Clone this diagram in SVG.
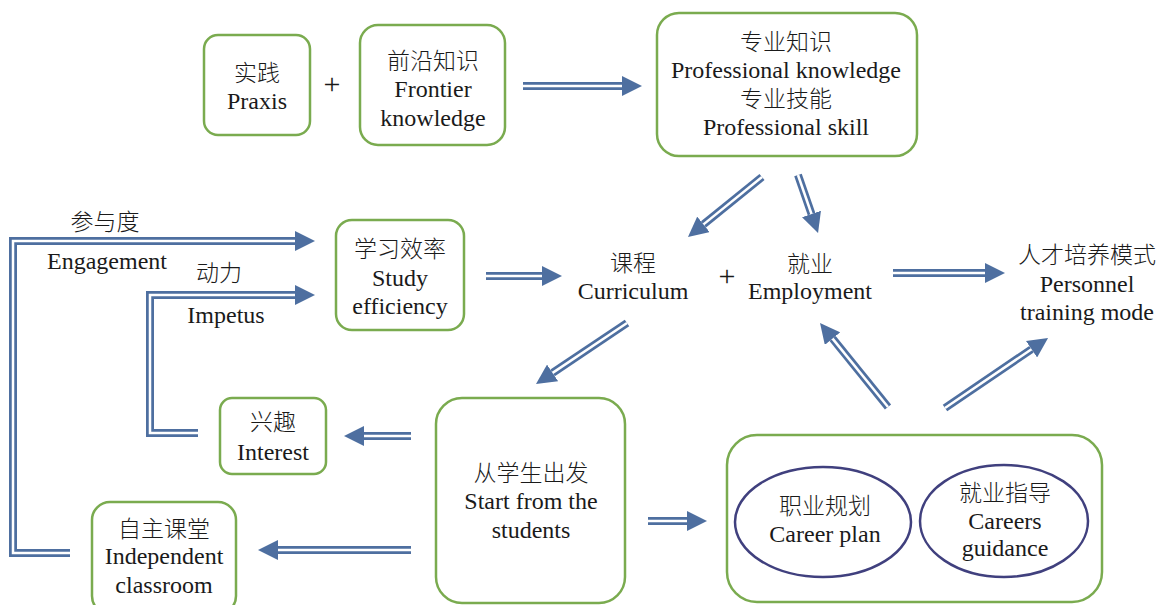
<svg xmlns="http://www.w3.org/2000/svg" width="1159" height="605" viewBox="0 0 1159 605">
  <style>
    text { font-family: "Liberation Serif", "Noto Sans CJK SC", serif; font-size: 24px; fill: #1a1a1a; text-anchor: middle; }
    .cjk { font-family: "Noto Sans CJK SC", "Liberation Serif", sans-serif; font-size: 23px; font-weight: 300; }
    .plus { font-size: 30px; }
    .box { fill: #ffffff; stroke: #7aab4f; stroke-width: 2.5; }
    .oval { fill: #ffffff; stroke: #40407e; stroke-width: 2.5; }
    .shaft { fill: none; stroke: #4e6fa0; stroke-width: 8; stroke-linejoin: miter; marker-end: url(#head); }
    .gap { fill: none; stroke: #ffffff; stroke-width: 2.5; stroke-linejoin: miter; }
  </style>
  <defs>
    <marker id="head" viewBox="0 0 20 20" refX="0" refY="10" markerWidth="20" markerHeight="20" markerUnits="userSpaceOnUse" orient="auto">
      <path d="M0,0 L20,10 L0,20 z" fill="#4e6fa0"/>
    </marker>
  </defs>
  <rect width="1159" height="605" fill="#ffffff"/>

  <!-- connectors: double-line arrows -->
  <g id="connectors">
    <path class="shaft" d="M523,86 L622,86"/>
    <path class="shaft" d="M762,177 L703.5,224.4"/>
    <path class="shaft" d="M798,175 L811.5,214"/>
    <path class="shaft" d="M893,273 L985,273"/>
    <path class="shaft" d="M486,276 L542,276"/>
    <path class="shaft" d="M627,323 L552.6,372.9"/>
    <path class="shaft" d="M411,436 L364,436"/>
    <path class="shaft" d="M411,550 L278,550"/>
    <path class="shaft" d="M648,521 L687,521"/>
    <path class="shaft" d="M888,407 L832.6,338.6"/>
    <path class="shaft" d="M945,408 L1031.5,349.2"/>
    <path class="shaft" d="M70,553 L13,553 L13,241 L295,241"/>
    <path class="shaft" d="M198,433 L150,433 L150,295 L295,295"/>

    <path class="gap" d="M523,86 L622,86"/>
    <path class="gap" d="M762,177 L703.5,224.4"/>
    <path class="gap" d="M798,175 L811.5,214"/>
    <path class="gap" d="M893,273 L985,273"/>
    <path class="gap" d="M486,276 L542,276"/>
    <path class="gap" d="M627,323 L552.6,372.9"/>
    <path class="gap" d="M411,436 L364,436"/>
    <path class="gap" d="M411,550 L278,550"/>
    <path class="gap" d="M648,521 L687,521"/>
    <path class="gap" d="M888,407 L832.6,338.6"/>
    <path class="gap" d="M945,408 L1031.5,349.2"/>
    <path class="gap" d="M70,553 L13,553 L13,241 L295,241"/>
    <path class="gap" d="M198,433 L150,433 L150,295 L295,295"/>
  </g>

  <!-- bracket labels -->
  <g id="label-engagement">
    <text class="cjk" x="105" y="230">参与度</text>
    <text x="107" y="269">Engagement</text>
  </g>
  <g id="label-impetus">
    <text class="cjk" x="219" y="281">动力</text>
    <text x="226" y="323">Impetus</text>
  </g>

  <g id="praxis">
    <rect class="box" x="204" y="35" width="106" height="100" rx="14"/>
    <text class="cjk" x="257" y="81">实践</text>
    <text x="257" y="109">Praxis</text>
  </g>
  <text class="plus" x="332" y="94">+</text>
  <g id="frontier">
    <rect class="box" x="360" y="25" width="145" height="120" rx="18"/>
    <text class="cjk" x="433" y="69">前沿知识</text>
    <text x="433" y="97">Frontier</text>
    <text x="433" y="126">knowledge</text>
  </g>
  <g id="professional">
    <rect class="box" x="657" y="13" width="260" height="143" rx="22"/>
    <text class="cjk" x="786" y="50">专业知识</text>
    <text x="786" y="78">Professional knowledge</text>
    <text class="cjk" x="786" y="107">专业技能</text>
    <text x="786" y="135">Professional skill</text>
  </g>

  <g id="curriculum">
    <text class="cjk" x="633" y="271">课程</text>
    <text x="633" y="299">Curriculum</text>
  </g>
  <text class="plus" x="727" y="286">+</text>
  <g id="employment">
    <text class="cjk" x="810" y="272">就业</text>
    <text x="810" y="299">Employment</text>
  </g>
  <g id="training-mode">
    <text class="cjk" x="1087" y="263">人才培养模式</text>
    <text x="1087" y="292">Personnel</text>
    <text x="1087" y="320">training mode</text>
  </g>

  <g id="study">
    <rect class="box" x="336" y="220" width="128" height="110" rx="16"/>
    <text class="cjk" x="400" y="257">学习效率</text>
    <text x="400" y="286">Study</text>
    <text x="400" y="314">efficiency</text>
  </g>

  <g id="interest">
    <rect class="box" x="220" y="398" width="106" height="76" rx="12"/>
    <text class="cjk" x="273" y="430">兴趣</text>
    <text x="273" y="460">Interest</text>
  </g>

  <g id="students">
    <rect class="box" x="436" y="398" width="189" height="205" rx="26"/>
    <text class="cjk" x="531" y="481">从学生出发</text>
    <text x="531" y="509">Start from the</text>
    <text x="531" y="538">students</text>
  </g>

  <g id="classroom">
    <rect class="box" x="92" y="502" width="144" height="112" rx="18"/>
    <text class="cjk" x="164" y="537">自主课堂</text>
    <text x="164" y="564">Independent</text>
    <text x="164" y="593">classroom</text>
  </g>

  <g id="career">
    <rect class="box" x="727" y="435" width="375" height="167" rx="30"/>
    <ellipse class="oval" cx="823" cy="522" rx="88" ry="55"/>
    <text class="cjk" x="825" y="514">职业规划</text>
    <text x="825" y="542">Career plan</text>
    <ellipse class="oval" cx="1004" cy="521" rx="84" ry="56"/>
    <text class="cjk" x="1005" y="501">就业指导</text>
    <text x="1005" y="529">Careers</text>
    <text x="1005" y="556">guidance</text>
  </g>
</svg>
